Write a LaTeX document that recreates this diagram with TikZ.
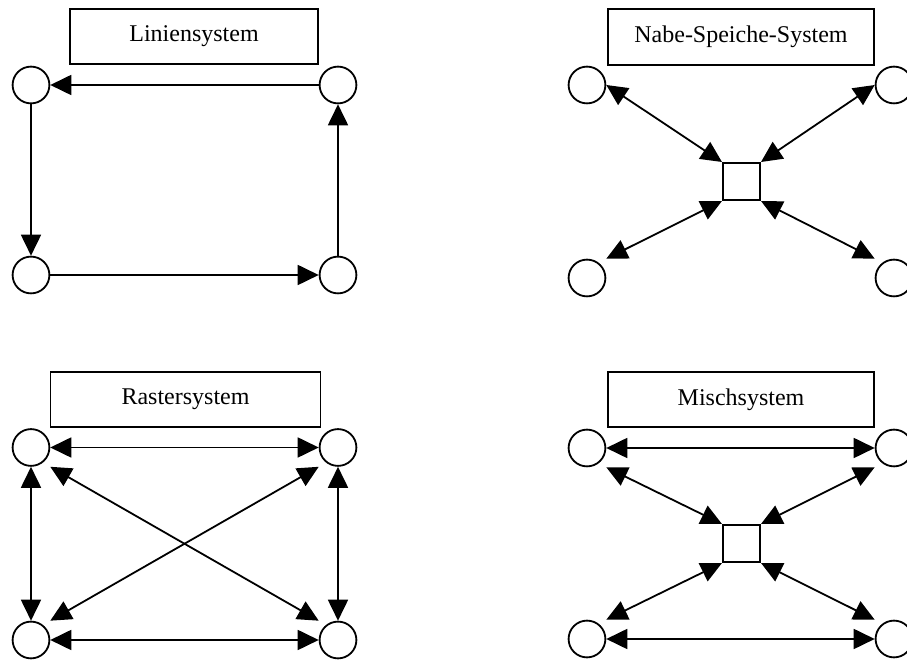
\documentclass[tikz,border=0pt]{standalone}
\usepackage{fontspec}
\setmainfont{Liberation Serif}
\usetikzlibrary{arrows.meta}

\begin{document}
\begin{tikzpicture}[x=0.5pt,y=-0.5pt,line width=0.9pt,
    station/.style={draw,circle,minimum size=18.4pt,inner sep=0pt},
    hub/.style={draw,rectangle,minimum size=18.6pt,inner sep=0pt},
    titlebox/.style={draw,rectangle,minimum height=27.8pt,inner sep=0pt,font=\fontsize{12}{14}\selectfont},
    oneway/.style={-{Triangle[length=10.5pt,width=10pt]}},
    twoway/.style={{Triangle[length=10.5pt,width=10pt]}-{Triangle[length=10.5pt,width=10pt]}}]
  \useasboundingbox (0,0) rectangle (907,662);

  % Liniensystem
  \node[titlebox,minimum width=124pt] (lintitle) at (194,36.5) {Liniensystem};
  \node[station] (lin1) at (31,85) {};
  \node[station] (lin2) at (338,85) {};
  \node[station] (lin3) at (31,275) {};
  \node[station] (lin4) at (338,275) {};
  \draw[oneway] (lin2) -- (lin1);
  \draw[oneway] (lin1) -- (lin3);
  \draw[oneway] (lin3) -- (lin4);
  \draw[oneway] (lin4) -- (lin2);

  % Nabe-Speiche-System
  \node[titlebox,minimum width=133pt] (nabtitle) at (741,37) {Nabe-Speiche-System};
  \node[station] (nab1) at (587,85) {};
  \node[station] (nab2) at (894,85) {};
  \node[station] (nab3) at (587,278) {};
  \node[station] (nab4) at (894,278) {};
  \node[hub] (nabhub) at (741.5,181.5) {};
  \draw[twoway] (nabhub.north west) -- (nab1.east);
  \draw[twoway] (nabhub.north east) -- (nab2.west);
  \draw[twoway] (nabhub.south west) -- (nab3.east |- nab3.north);
  \draw[twoway] (nabhub.south east) -- (nab4.west |- nab4.north);

  % Rastersystem
  \node[titlebox,minimum width=135pt] (rastitle) at (185.5,399.5) {Rastersystem};
  \node[station] (ras1) at (31,447.5) {};
  \node[station] (ras2) at (338,447.5) {};
  \node[station] (ras3) at (31,640) {};
  \node[station] (ras4) at (338,640) {};
  \draw[twoway] (ras1) -- (ras2);
  \draw[twoway] (ras3) -- (ras4);
  \draw[twoway] (ras1) -- (ras3);
  \draw[twoway] (ras2) -- (ras4);
  \draw[twoway] (ras1.east |- ras1.south) -- (ras4.west |- ras4.north);
  \draw[twoway] (ras2.west |- ras2.south) -- (ras3.east |- ras3.north);

  % Mischsystem
  \node[titlebox,minimum width=133pt] (mistitle) at (741,399.5) {Mischsystem};
  \node[station] (mis1) at (587,448) {};
  \node[station] (mis2) at (894,448) {};
  \node[station] (mis3) at (587,639) {};
  \node[station] (mis4) at (894,639) {};
  \node[hub] (mishub) at (741.5,543.5) {};
  \draw[twoway] (mis1) -- (mis2);
  \draw[twoway] (mis3) -- (mis4);
  \draw[twoway] (mishub.north west) -- (mis1.east |- mis1.south);
  \draw[twoway] (mishub.north east) -- (mis2.west |- mis2.south);
  \draw[twoway] (mishub.south west) -- (mis3.east |- mis3.north);
  \draw[twoway] (mishub.south east) -- (mis4.west |- mis4.north);
\end{tikzpicture}
\end{document}
